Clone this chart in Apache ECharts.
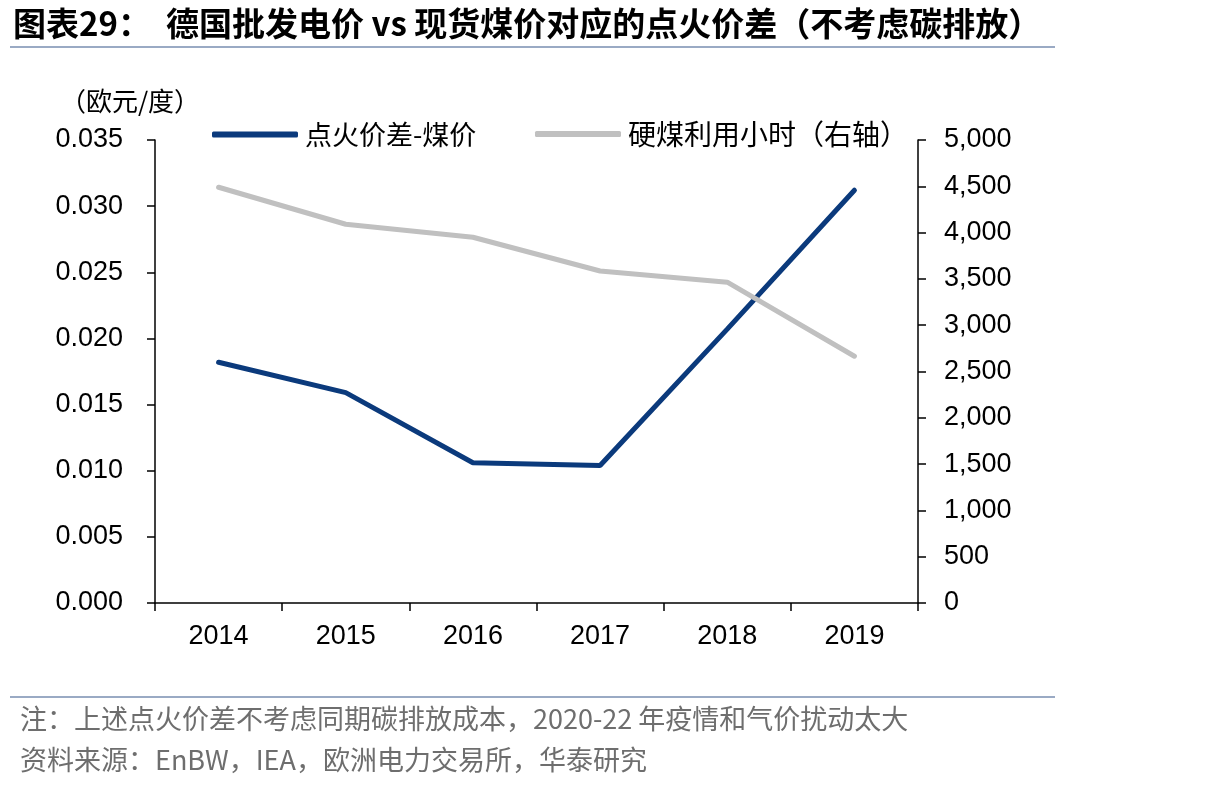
<!DOCTYPE html>
<html>
  <head>
    <meta charset="utf-8">
    <title>德国点火价差</title>
    <style>
      body { margin: 0; background: #fff; }
    </style>
  </head>
  <body>
    <div id="main" style="width: 1206px;height:793px;"></div>

  <script src="https://cdn.jsdelivr.net/npm/echarts@6/dist/echarts.min.js" charset="utf-8"></script>
  <script type="text/javascript">
  var years = ['2014', '2015', '2016', '2017', '2018', '2019'];
  // 点火价差-煤价 (欧元/度)
  var sparkSpread = [0.0182, 0.0159, 0.0106, 0.0104, 0.0207, 0.0312];
  // 硬煤利用小时 (右轴)
  var coalHours = [4490, 4090, 3950, 3585, 3465, 2665];

  var numFont = '"Liberation Sans", Arial, sans-serif';
  var cjkFont = '"Noto Sans CJK SC", sans-serif';

  function addCommas(v) {
    return String(v).replace(/\B(?=(\d{3})+(?!\d))/g, ',');
  }

  var myChart = echarts.init(document.getElementById('main'));

  var option = {
    backgroundColor: '#fff',
    animation: false,
    title: {
      text: '图表29：  德国批发电价 vs 现货煤价对应的点火价差（不考虑碳排放）',
      left: 8,
      top: 2,
      textStyle: {
        fontFamily: cjkFont,
        fontSize: 33,
        fontWeight: 'bold',
        color: '#000'
      }
    },
    legend: [
      {
        data: ['点火价差-煤价'],
        left: 207,
        top: 116,
        icon: 'roundRect',
        itemWidth: 86,
        itemHeight: 6,
        itemGap: 0,
        textStyle: { fontFamily: cjkFont, fontSize: 27, color: '#000', padding: [0, 0, 0, 2] }
      },
      {
        data: ['硬煤利用小时（右轴）'],
        left: 530,
        top: 115,
        icon: 'roundRect',
        itemWidth: 86,
        itemHeight: 6,
        itemGap: 0,
        textStyle: { fontFamily: cjkFont, fontSize: 28, color: '#000', padding: [0, 0, 0, 2] }
      }
    ],
    grid: {
      left: 155,
      right: 288,
      top: 140,
      bottom: 190,
      containLabel: false
    },
    xAxis: {
      type: 'category',
      data: years,
      boundaryGap: true,
      axisLine: { lineStyle: { color: '#000', width: 1.5 } },
      axisTick: { show: true, length: 8, inside: false, lineStyle: { color: '#000', width: 1.5 } },
      axisLabel: { fontFamily: numFont, fontSize: 27, color: '#000', margin: 20 }
    },
    yAxis: [
      {
        type: 'value',
        min: 0,
        max: 0.035,
        interval: 0.005,
        name: '（欧元/度）',
        nameLocation: 'end',
        nameGap: 26,
        nameTextStyle: { fontFamily: cjkFont, fontSize: 26, color: '#000', align: 'center', padding: [0, 0, 0, -50] },
        axisLine: { show: true, lineStyle: { color: '#000', width: 1.5 } },
        axisTick: { show: true, length: 8, lineStyle: { color: '#000', width: 1.5 } },
        splitLine: { show: false },
        axisLabel: {
          fontFamily: numFont,
          fontSize: 27,
          color: '#000',
          margin: 32,
          formatter: function (v) { return v.toFixed(3); }
        }
      },
      {
        type: 'value',
        min: 0,
        max: 5000,
        interval: 500,
        position: 'right',
        axisLine: { show: true, lineStyle: { color: '#000', width: 1.5 } },
        axisTick: { show: true, length: 8, lineStyle: { color: '#000', width: 1.5 } },
        splitLine: { show: false },
        axisLabel: {
          fontFamily: numFont,
          fontSize: 27,
          color: '#000',
          margin: 26,
          formatter: function (v) { return addCommas(v); }
        }
      }
    ],
    series: [
      {
        name: '点火价差-煤价',
        type: 'line',
        yAxisIndex: 0,
        data: sparkSpread,
        symbol: 'none',
        color: '#0B3A7C',
        lineStyle: { width: 5, color: '#0B3A7C', cap: 'round' }
      },
      {
        name: '硬煤利用小时（右轴）',
        type: 'line',
        yAxisIndex: 1,
        data: coalHours,
        symbol: 'none',
        color: '#C0C0C0',
        lineStyle: { width: 5, color: '#C0C0C0', cap: 'round' }
      }
    ],
    graphic: [
      {
        type: 'rect',
        shape: { x: 10, y: 46, width: 1045, height: 2 },
        style: { fill: '#9AAAC4' }
      },
      {
        type: 'rect',
        shape: { x: 10, y: 696, width: 1045, height: 2 },
        style: { fill: '#9AAAC4' }
      },
      {
        type: 'text',
        left: 20,
        top: 705,
        style: {
          text: '注：上述点火价差不考虑同期碳排放成本，2020-22 年疫情和气价扰动太大',
          font: '27px "Noto Sans CJK SC", "Liberation Sans", sans-serif',
          fill: '#6E6E6E'
        }
      },
      {
        type: 'text',
        left: 20,
        top: 746,
        style: {
          text: '资料来源：EnBW，IEA，欧洲电力交易所，华泰研究',
          font: '27px "Noto Sans CJK SC", "Liberation Sans", sans-serif',
          fill: '#6E6E6E'
        }
      }
    ]
  };
  myChart.setOption(option);
  </script>
  </body>
</html>
